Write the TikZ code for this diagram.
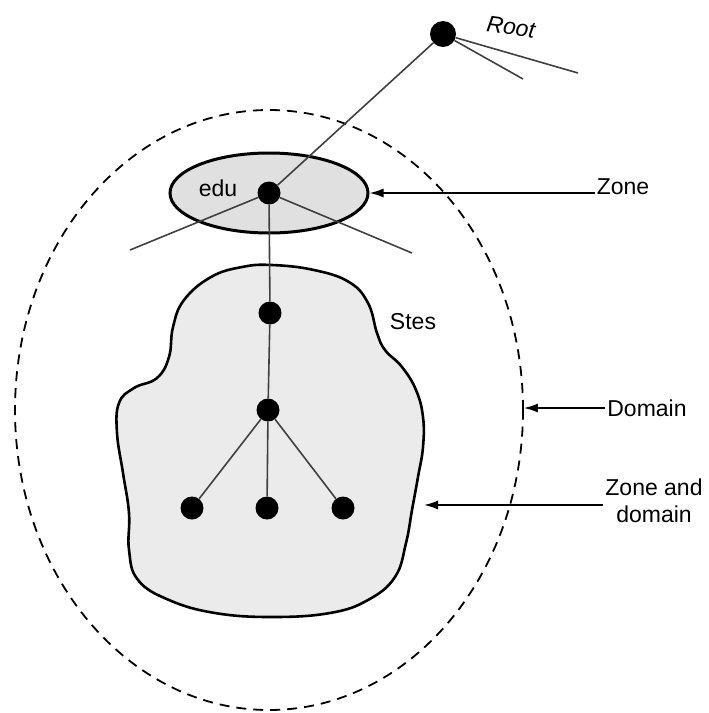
\documentclass[tikz,border=0pt]{standalone}
\usepackage{fontspec}
\setmainfont{Liberation Sans}
\usetikzlibrary{arrows.meta, positioning, shapes.geometric}

\begin{document}
\begin{tikzpicture}[
    x=1pt, y=-1pt,
    every node/.style={font=\fontsize{23}{27}\selectfont},
    dot/.style={circle, fill=black, inner sep=0pt, minimum size=23pt},
    link/.style={draw=black!75, line width=1.6pt},
    tag/.style={inner sep=2pt, align=center},
    arrow/.style={-{Latex[length=14pt, width=9pt]}, line width=1.6pt},
    domainline/.style={draw, dash pattern=on 10pt off 7pt, line width=1.8pt},
    zoneshape/.style={draw, line width=3pt, fill=black!12}
  ]

  \useasboundingbox (0,0) rectangle (709,713);

  % outer domain and the zones inside it
  \node[domainline, ellipse, inner sep=0pt, minimum width=508pt, minimum height=600pt] (domain) at (269,410) {};
  \draw[line width=2.6pt, fill=black!8] plot[smooth cycle, tension=0.7] coordinates {
    (272,265) (314,270) (349,282) (368,303) (377,333) (385,350) (402,367)
    (416,390) (423,417) (423,447) (418,477) (412,510) (406,543) (395,577)
    (368,600) (330,613) (272,617) (215,613) (169,600) (138,580) (129,550)
    (129,513) (123,473) (117,433) (119,403) (134,388) (157,378) (169,357)
    (173,327) (184,300) (211,277) (242,267)};
  \node[zoneshape, ellipse, inner sep=0pt, minimum width=198pt, minimum height=80pt] (zone) at (269,193) {};

  % tree
  \node[dot, minimum size=26pt] (root) at (443,34) {};
  \node[dot] (edu) at (269,193) {};
  \node[dot] (site) at (270,313) {};
  \node[dot] (hub) at (268,410) {};
  \node[dot] (leafa) at (192,508) {};
  \node[dot] (leafb) at (267,508) {};
  \node[dot] (leafc) at (343,508) {};

  \coordinate (rootr) at (578,73);
  \coordinate (rootm) at (523,79);
  \coordinate (edul) at (130,250);
  \coordinate (edur) at (412,253);
  \coordinate (blobedge) at (424,505);

  \draw[link] (root) -- (rootr);
  \draw[link] (root) -- (rootm);
  \draw[link] (root) -- (edu);
  \draw[link] (edu) -- (edul);
  \draw[link] (edu) -- (edur);
  \draw[link] (edu) -- (site);
  \draw[link] (site) -- (hub);
  \draw[link] (hub) -- (leafa);
  \draw[link] (hub) -- (leafb);
  \draw[link] (hub) -- (leafc);

  % labels
  \node[tag, inner sep=0pt, font=\fontsize{23}{27}\selectfont\itshape, rotate=-8] (roottext) at (511,27) {Root};
  \node[tag] (edutext) at (218,188) {edu};
  \node[tag] (sitetext) at (413,322) {Stes};
  \node[tag] (zonetext) at (623,187) {Zone};
  \node[tag] (domaintext) at (647,408) {Domain};
  \node[tag] (bothtext) at (654,501) {Zone and\\domain};

  \draw[arrow] (zone.east -| zonetext.west) -- (zone.east);
  \draw[arrow] (domaintext.west) -- (domaintext.west -| domain.east);
  \draw[arrow] (bothtext.west |- blobedge) -- (blobedge);

\end{tikzpicture}
\end{document}
